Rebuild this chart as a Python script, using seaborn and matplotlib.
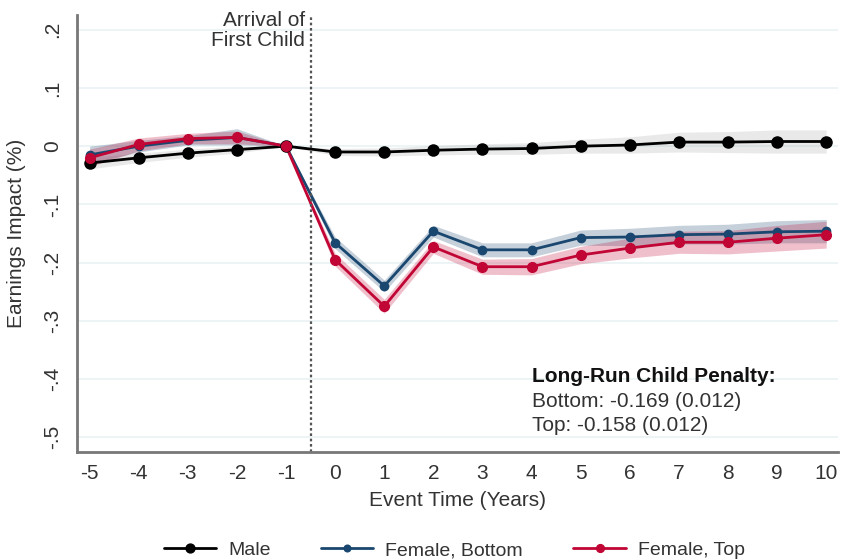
import numpy as np
import pandas as pd
import matplotlib
matplotlib.use("Agg")
import matplotlib.pyplot as plt
import seaborn as sns

event_time = list(range(-5, 11))

male = [-0.029, -0.020, -0.012, -0.006, 0.0, -0.010, -0.010, -0.007, -0.005,
        -0.004, 0.000, 0.002, 0.007, 0.007, 0.008, 0.008]
male_lo = [-0.039, -0.028, -0.019, -0.012, 0.0, -0.016, -0.017, -0.015, -0.014,
           -0.014, -0.012, -0.012, -0.010, -0.011, -0.012, -0.012]
male_hi = [-0.019, -0.012, -0.005, 0.000, 0.0, -0.004, -0.003, 0.001, 0.004,
           0.006, 0.012, 0.016, 0.024, 0.025, 0.028, 0.028]

bottom = [-0.015, 0.000, 0.010, 0.015, 0.0, -0.166, -0.240, -0.146, -0.178,
          -0.178, -0.157, -0.156, -0.152, -0.151, -0.147, -0.146]
bottom_lo = [-0.030, -0.010, 0.002, 0.002, 0.0, -0.176, -0.250, -0.156, -0.190,
             -0.190, -0.170, -0.171, -0.168, -0.168, -0.166, -0.166]
bottom_hi = [0.000, 0.010, 0.018, 0.030, 0.0, -0.156, -0.230, -0.136, -0.166,
             -0.166, -0.144, -0.141, -0.136, -0.134, -0.128, -0.126]

top = [-0.020, 0.003, 0.013, 0.015, 0.0, -0.195, -0.275, -0.173, -0.207,
       -0.207, -0.187, -0.175, -0.165, -0.165, -0.158, -0.152]
top_lo = [-0.035, -0.008, 0.004, 0.004, 0.0, -0.206, -0.287, -0.184, -0.220,
          -0.221, -0.202, -0.192, -0.184, -0.185, -0.180, -0.175]
top_hi = [-0.005, 0.014, 0.022, 0.026, 0.0, -0.184, -0.263, -0.162, -0.194,
          -0.193, -0.172, -0.158, -0.146, -0.145, -0.136, -0.129]

series_names = ["Male", "Female, Bottom", "Female, Top"]
colors = ["#000000", "#1a476f", "#c10534"]
yticks = [0.2, 0.1, 0.0, -0.1, -0.2, -0.3, -0.4, -0.5]
ytick_labels = [".2", ".1", "0", "-.1", "-.2", "-.3", "-.4", "-.5"]

df = pd.DataFrame({
    "t": event_time * 3,
    "est": male + bottom + top,
    "lo": male_lo + bottom_lo + top_lo,
    "hi": male_hi + bottom_hi + top_hi,
    "group": [g for g in series_names for _ in event_time],
})

sns.set_style("white")
plt.rcParams["font.family"] = ["Liberation Sans", "DejaVu Sans"]
plt.rcParams["axes.unicode_minus"] = False

fs = 15

fig = plt.figure(figsize=(8.41, 5.6), dpi=100)
ax = fig.add_axes([0.092, 0.193, 0.905, 0.78])

for g, c in zip(series_names, colors):
    d = df[df.group == g]
    ax.fill_between(d.t, d.lo, d.hi, color=c if g != "Male" else "#888888",
                    alpha=0.25 if g != "Male" else 0.18, lw=0)

sns.lineplot(data=df, x="t", y="est", hue="group", hue_order=series_names,
             palette=colors, dashes=False, lw=2, ax=ax, legend=False)
# markers drawn per series with their own sizes
sizes = [8, 6, 7]
for g, c, s in zip(series_names, colors, sizes):
    d = df[df.group == g]
    ax.plot(d.t, d.est, ls="none", marker="o", ms=s, color=c, mec=c)

ax.axvline(-0.5, color="#555555", lw=1.6, ls=(0, (1.2, 1.2)))
ax.text(-0.62, 0.232, "Arrival of\nFirst Child", ha="right", va="top",
        fontsize=fs, color="#333333", linespacing=1.05)

ax.text(4.0, -0.395, "Long-Run Child Penalty:", fontsize=fs,
        fontweight="bold", color="#111111", va="center")
ax.text(4.0, -0.438, "Bottom: -0.169 (0.012)", fontsize=fs, color="#333333",
        va="center")
ax.text(4.0, -0.479, "Top: -0.158 (0.012)", fontsize=fs, color="#333333",
        va="center")

ax.set_xlim(-5.25, 10.25)
ax.set_ylim(-0.525, 0.225)
ax.set_xticks(event_time)
ax.set_yticks(yticks)
ax.set_yticklabels(ytick_labels, rotation=90, va="center")
ax.tick_params(axis="both", labelsize=fs, colors="#333333", length=5,
               width=1.5, direction="out")
ax.tick_params(axis="both", color="#777777")
ax.tick_params(axis="y", pad=6)
ax.yaxis.grid(True, color="#eaf2f3", lw=1.2)
ax.set_axisbelow(True)
sns.despine(ax=ax)
for sp in ["left", "bottom"]:
    ax.spines[sp].set_color("#777777")
    ax.spines[sp].set_linewidth(2)

ax.set_xlabel("Event Time (Years)", fontsize=fs, color="#333333", labelpad=6)
ax.set_ylabel("Earnings Impact (%)", fontsize=fs, color="#333333", labelpad=12)

handles = [plt.Line2D([], [], color=c, lw=2, marker="o", ms=s * 0.8)
           for c, s in zip(colors, sizes)]
fig.legend(handles, series_names, loc="lower center", ncol=3, frameon=False,
           bbox_to_anchor=(0.54, -0.03), fontsize=14, handlelength=2.7,
           handletextpad=0.6, columnspacing=2.6, labelcolor="#333333")

fig.savefig("out.png", dpi=100)
